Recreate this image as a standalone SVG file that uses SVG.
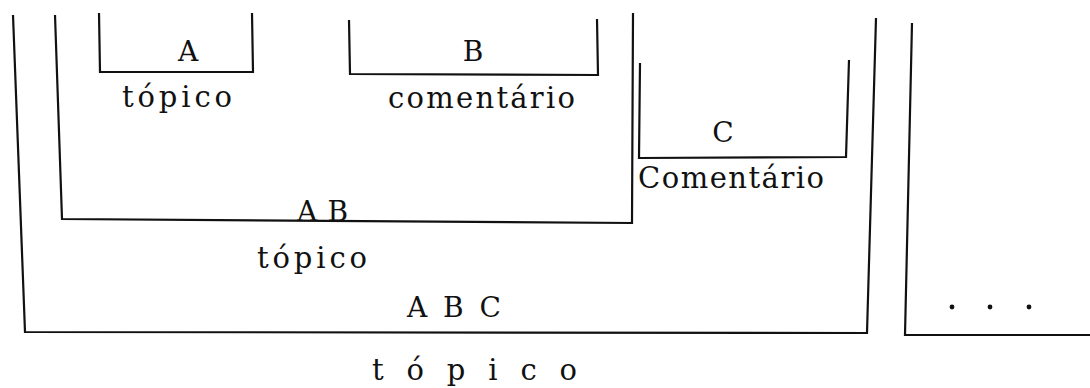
<svg xmlns="http://www.w3.org/2000/svg" width="1090" height="388" viewBox="0 0 1090 388">
<style>
.br{fill:none;stroke:#111;stroke-width:2.2;stroke-linejoin:miter}
.t{font-family:"DejaVu Serif","Liberation Serif",serif;font-size:29px;fill:#111}
.c{font-family:"DejaVu Serif","Liberation Serif",serif;font-size:28px;fill:#111}
.dot{fill:#111}
</style>
<rect width="1090" height="388" fill="#fff"/>
<g id="bracket-ABC">
<polyline class="br" points="13,15 25,332 867,333 876,18"/>
<text class="c" x="407" y="317" textLength="94" lengthAdjust="spacing">A B C</text>
<text class="t" x="372" y="380" textLength="205" lengthAdjust="spacing">t ó p i c o</text>
</g>
<g id="bracket-AB">
<polyline class="br" points="55,15 62,219 632,223 633,13"/>
<text class="c" x="297" y="221" textLength="51" lengthAdjust="spacing">A B</text>
<text class="t" x="257" y="268" textLength="110" lengthAdjust="spacing">tópico</text>
</g>
<g id="bracket-A">
<polyline class="br" points="99,13 100,72 253,72 252,13"/>
<text class="c" x="188" y="61" text-anchor="middle">A</text>
<text class="t" x="122" y="107" textLength="110" lengthAdjust="spacing">tópico</text>
</g>
<g id="bracket-B">
<polyline class="br" points="349,20 350,74 598,75 597,19"/>
<text class="c" x="473" y="61" text-anchor="middle">B</text>
<text class="t" x="388" y="108" textLength="187" lengthAdjust="spacing">comentário</text>
</g>
<g id="bracket-C">
<polyline class="br" points="640,63 639,158 846,157 849,60"/>
<text class="c" x="723" y="142" text-anchor="middle">C</text>
<text class="t" x="638" y="188" textLength="186" lengthAdjust="spacing">Comentário</text>
</g>
<g id="bracket-etc">
<polyline class="br" points="912,23 905,335 1090,335"/>
<circle class="dot" cx="952" cy="307" r="2.4"/>
<circle class="dot" cx="990" cy="307" r="2.4"/>
<circle class="dot" cx="1029" cy="307" r="2.4"/>
</g>
<g id="connectors"/>
</svg>
